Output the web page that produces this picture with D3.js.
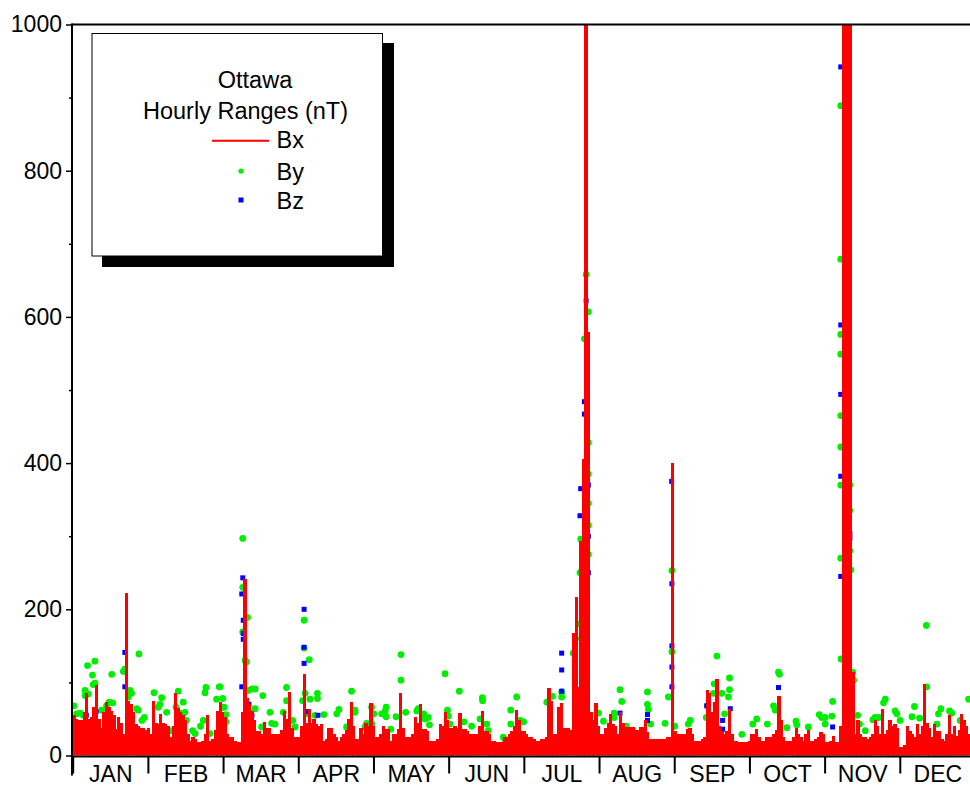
<!DOCTYPE html>
<html>
<head>
<meta charset="utf-8">
<script src="https://cdn.jsdelivr.net/npm/d3@7"></script>
<style>
  html, body { margin: 0; padding: 0; background: #fff; }
  svg { display: block; font-family: Arial, "Liberation Sans", sans-serif; }
</style>
</head>
<body>
<div id="chart"></div>
<script>
// daily maximum of the hourly Bx range (nT), one value per day
const JAN = [55,50,48,48,60,85,50,52,66,96,50,38,60,73,66,61,55,36,52,45,29,222,75,70,60,43,40,38,38,35,38]
const FEB = [29,75,45,43,57,45,43,40,25,40,85,65,59,55,48,30,20,25,22,18,18,20,30,55,20,22,35,61]
const MAR = [73,60,52,30,25,25,20,18,18,60,242,79,70,61,48,34,34,29,46,38,38,29,29,29,30,35,61,50,87,38,25]
const APR = [25,25,40,112,45,64,45,50,43,40,43,20,22,38,38,30,25,20,25,30,35,50,73,40,22,22,38,30,45,40]
const MAY = [72,40,25,25,30,40,36,36,20,29,29,36,85,38,25,25,25,30,52,45,70,36,36,34,20,20,20,22,43,40,59]
const JUN = [48,38,38,40,38,58,36,36,34,29,29,29,29,40,61,34,34,30,20,20,18,18,18,25,25,30,34,40,62,48]
const JUL = [34,34,30,25,25,22,20,20,22,22,25,92,75,29,29,66,72,38,38,38,35,167,217,94,293,405,1000,580,60,48,72]
const AUG = [40,29,29,38,45,57,43,40,30,60,45,39,39,39,39,35,35,39,39,48,32,23,23,23,23,23,23,23,25,25,400]
const SEP = [34,30,29,29,29,36,38,30,20,20,20,22,25,89,85,60,73,105,40,34,30,34,64,30,20,20,18,18,18,18]
const OCT = [20,29,29,36,25,20,20,25,25,25,30,35,82,48,25,20,20,20,25,38,30,25,20,30,35,20,20,22,25,32,30]
const NOV = [18,18,20,27,18,18,40,1000,1000,1000,1000,114,29,48,30,25,25,22,25,30,48,40,30,64,30,35,48,40,43,38]
const DEC = [11,12,15,40,34,30,25,43,30,40,98,45,38,25,43,34,34,22,20,30,55,30,40,27,35,57,48,40,30,45,55]

const BX_DAILY = [].concat(JAN, FEB, MAR, APR, MAY, JUN, JUL, AUG, SEP, OCT, NOV, DEC)

// visible By hourly ranges: [day of year, nT]
const BY_POINTS = [
  [0.5,68],[1.6,57],[3,58],[4.3,55],[5,89],[5,82],[6,123],[6.3,84],[8,110],[8.3,97],[9,129],[9,99],
  [11.7,62],[13.7,68],[14.8,73],[15.8,111],[16.2,72],[20.5,115],[21.1,118],[22.5,80],[23.2,89],[23.8,85],
  [25.9,64],[26.5,62],[26.8,139],[28,48],[29,52],
  [32.9,86],[34.6,66],[35.3,70],[36,79],[38,59],[39.3,34],[41.8,66],[42.7,88],[43.4,58],[44.7,73],[45.4,59],
  [46,48],[48.5,34],[49.5,30],[51.7,40],[52.8,48],[53.5,86],[53.9,93],[55.5,30],[58.2,77],[59.3,94],
  [59.6,94],[60.6,66],[60.7,78],[61.2,66],[62,56],[62,46],[68.8,297],[68.8,230],[68.8,169],[69.7,130],
  [70.3,128],[70.7,189],[71,89],[72.5,91],[73.8,91],[73.8,64],[71.8,60],[76.9,82],[76.4,39],[79.8,59],
  [80.5,44],[81.8,43],[85.2,59],[86.5,93],[86.5,75],[89,48],
  [90,39],[93.6,185],[93.6,147],[95.7,131],[94,85],[93,75],[96,77],[99,85],[99,78],[98,55],[101.6,56],
  [95,57],[104,20],[107.7,63],[106.8,57],[110.8,39],[112.8,88],[114.2,59],[114.2,62],[118.9,44],[120.9,66],
  [121.8,57],[118.3,39],
  [121,43],[125,57],[126.8,66],[126.8,53],[126.4,61],[128.7,36],[130.8,53],[132.8,138],[132.8,103],
  [134.7,59],[139.2,61],[139.8,64],[142,57],[142.5,50],[143.8,52],[144.3,42],[150.6,112],[151.6,62],
  [152,54],[152.6,43],
  [156.4,88],[158.3,46],[161.4,40],[165.7,79],[165.8,75],[164.8,50],[167.5,43],[168.1,34],[174.2,25],
  [174.9,22],[179.6,80],[177.2,62],[177.2,43],
  [181,48],[182.4,46],[191.8,73],[194.1,81],[197.8,87],[197.8,80],[202.5,140],[203.5,160],[204.5,180],
  [205.2,250],[205.5,296],[207,570],[207.7,658],[208.6,607],[208.6,428],[208.6,385],[208.6,345],
  [208.6,315],[208.6,275],
  [212.7,58],[214.7,47],[216.3,32],[219,58],[219,52],[221.4,90],[222.1,74],[223.9,40],[226.6,34],
  [232.5,87],[232.5,70],[232.9,63],[233.8,43],[239.6,44],[241,80],[242.4,253],[242.4,142],
  [243.5,40],[249.8,48],[249,43],
  [260.6,136],[259.5,98],[259.2,85],[262.6,85],[265.7,106],[265.7,90],[265.3,80],[263.7,57],[256.8,68],
  [256.3,52],[270.7,29],[275.1,43],[276.7,50],
  [281,43],[285.5,114],[285.9,111],[283.5,68],[284.2,62],[288.9,38],[292.6,47],[292.9,42],[297.6,39],
  [302,56],[303,52],
  [304.4,52],[304.4,43],[307.4,74],[307.1,54],[310.7,889],[310.7,679],[310.7,576],[310.7,549],
  [310.7,465],[310.7,422],[310.7,370],[314.4,370],[314.4,335],[314.4,280],[314.4,253],[310.7,270],
  [310.8,132],[314.8,254],[315.5,114],[315.9,103],[317.5,55],[318.3,43],[320.6,34],[323.7,49],
  [324.6,52],[326,52],[328.7,77],[328,72],[332.7,61],[333.4,57],
  [334.7,48],[339.5,53],[340.5,67],[342.6,51],[345.3,178],[345.5,94],[349.6,43],[350.2,57],[351.2,64],
  [354.7,61],[355.6,58],[359,48],[362.4,77]
]

// visible Bz hourly ranges: [day of year, nT]
const BZ_POINTS = [
  [21.1,141],[21.1,94],[5.5,55],[9.5,60],[13,48],
  [68.8,243],[68.4,221],[69,185],[69,167],[69,159],[68.4,94],[71.3,70],[72.5,55],
  [93.6,200],[93.6,148],[93.6,126],[94.8,60],[99.2,55],
  [197.8,140],[197.8,117],[197.8,88],[207.7,622],[207,484],[207,467],[208.6,370],[205.5,365],
  [205.2,328],[208.6,300],[208.6,250],
  [221.4,58],[232.5,56],[232.5,48],[242.3,375],[242.4,235],[242.4,150],[242.4,121],[242.4,94],
  [262.9,48],[262.9,36],[266,64],[256.5,68],[260,68],
  [285.5,93],
  [307.4,39],[310.7,942],[312.4,752],[310.7,589],[310.7,494],[310.7,382],[314.4,304],[314.4,297],[310.7,245]
]

const MONTHS = ["JAN","FEB","MAR","APR","MAY","JUN","JUL","AUG","SEP","OCT","NOV","DEC"]
const Y_TICKS = [0, 200, 400, 600, 800, 1000]
const Y_MINOR = [100, 300, 500, 700, 900]

const W = 970, H = 787
const LEFT = 72.7, RIGHT = 975, TOP = 24.5, BOTTOM = 755.5
const HOURS = 8760

const svg = d3.select("#chart").append("svg")
  .attr("width", W)
  .attr("height", H)

const x = d3.scaleLinear().domain([0, HOURS]).range([LEFT, RIGHT])
const y = d3.scaleLinear().domain([0, 1000]).range([BOTTOM, TOP])

svg.append("clipPath").attr("id", "plot")
  .append("rect")
    .attr("x", LEFT).attr("y", TOP)
    .attr("width", RIGHT - LEFT).attr("height", BOTTOM - TOP)

const plot = svg.append("g").attr("clip-path", "url(#plot)")

plot.append("g")
  .selectAll("circle")
  .data(BY_POINTS)
  .enter()
  .append("circle")
    .attr("cx", d => x(d[0] * 24))
    .attr("cy", d => y(d[1]))
    .attr("r", 3.4)
    .attr("fill", "#00ee00")

plot.append("g")
  .selectAll("rect")
  .data(BZ_POINTS)
  .enter()
  .append("rect")
    .attr("x", d => x(d[0] * 24) - 2.5)
    .attr("y", d => y(d[1]) - 2.5)
    .attr("width", 5)
    .attr("height", 5)
    .attr("fill", "#0000ff")

// Bx as a dense red trace: one column per day up to its largest hourly range
const dayW = x(24) - x(0)
plot.append("g")
  .attr("shape-rendering", "crispEdges")
  .selectAll("rect")
  .data(BX_DAILY)
  .enter()
  .append("rect")
    .attr("x", (d, i) => x(i * 24))
    .attr("y", d => y(Math.min(d, 1000)))
    .attr("width", dayW + 0.8)
    .attr("height", d => y(0) - y(Math.min(d, 1000)))
    .attr("fill", "#ff0000")

// y axis, major and minor ticks
const yAxis = svg.append("g")
  .attr("transform", `translate(${LEFT - 0.7}, 0)`)
  .call(d3.axisLeft(y).tickValues(Y_TICKS).tickSize(6).tickSizeOuter(0).tickPadding(4)
    .tickFormat(d3.format("d")))
yAxis.select(".domain").remove()
yAxis.selectAll("line").attr("stroke", "#000").attr("stroke-width", 1.5)
yAxis.selectAll("text")
  .attr("font-size", 23)
  .attr("fill", "#000")
  .attr("font-family", "Arial, 'Liberation Sans', sans-serif")

const yMinor = svg.append("g")
  .attr("transform", `translate(${LEFT - 0.7}, 0)`)
  .call(d3.axisLeft(y).tickValues(Y_MINOR).tickSize(3).tickFormat(""))
yMinor.select(".domain").remove()
yMinor.selectAll("line").attr("stroke", "#000").attr("stroke-width", 1.5)

// x axis: month boundaries and centred month names
const monthEdges = d3.range(0, 13).map(i => i * HOURS / 12)
const monthMids = MONTHS.map((m, i) => (i + 0.5) * HOURS / 12)

const xAxis = svg.append("g")
  .attr("transform", `translate(0, ${BOTTOM + 1})`)
  .call(d3.axisBottom(x).tickValues(monthEdges).tickSize(17).tickSizeOuter(0).tickFormat(""))
xAxis.select(".domain").remove()
xAxis.selectAll("line").attr("stroke", "#000").attr("stroke-width", 2)

const xLabels = svg.append("g")
  .attr("transform", `translate(0, ${BOTTOM + 1})`)
  .call(d3.axisBottom(x).tickValues(monthMids).tickSize(0).tickPadding(9)
    .tickFormat((d, i) => MONTHS[i]))
xLabels.select(".domain").remove()
xLabels.selectAll("text")
  .attr("font-size", 23)
  .attr("fill", "#000")
  .attr("font-family", "Arial, 'Liberation Sans', sans-serif")

// frame lines
svg.append("line")
  .attr("x1", LEFT - 1).attr("x2", W).attr("y1", TOP).attr("y2", TOP)
  .attr("stroke", "#000").attr("stroke-width", 2)
svg.append("line")
  .attr("x1", LEFT - 1).attr("x2", W).attr("y1", BOTTOM + 1).attr("y2", BOTTOM + 1)
  .attr("stroke", "#000").attr("stroke-width", 2)
svg.append("line")
  .attr("x1", LEFT - 0.7).attr("x2", LEFT - 0.7).attr("y1", TOP - 1).attr("y2", BOTTOM + 20)
  .attr("stroke", "#000").attr("stroke-width", 2)

// legend
const legend = svg.append("g")
legend.append("rect")
  .attr("x", 102).attr("y", 43).attr("width", 292).attr("height", 224)
  .attr("fill", "#000")
legend.append("rect")
  .attr("x", 92).attr("y", 33.5).attr("width", 290.5).attr("height", 222.5)
  .attr("fill", "#fff").attr("stroke", "#000").attr("stroke-width", 1)

legend.append("text")
  .attr("x", 255).attr("y", 88)
  .attr("text-anchor", "middle")
  .attr("font-size", 23.5)
  .text("Ottawa")
legend.append("text")
  .attr("x", 245.5).attr("y", 119)
  .attr("text-anchor", "middle")
  .attr("font-size", 23.5)
  .text("Hourly Ranges (nT)")

legend.append("line")
  .attr("x1", 212).attr("x2", 269).attr("y1", 140.7).attr("y2", 140.7)
  .attr("stroke", "#ff0000").attr("stroke-width", 2)
legend.append("circle")
  .attr("cx", 241).attr("cy", 171).attr("r", 2.6)
  .attr("fill", "#00ee00")
legend.append("rect")
  .attr("x", 238.5).attr("y", 197.5).attr("width", 5).attr("height", 5)
  .attr("fill", "#0000ff")

const legendNames = [["Bx", 148], ["By", 180], ["Bz", 208.5]]
legend.selectAll("text.name")
  .data(legendNames)
  .enter()
  .append("text")
    .attr("class", "name")
    .attr("x", 276.5)
    .attr("y", d => d[1])
    .attr("font-size", 23.5)
    .text(d => d[0])
</script>
</body>
</html>
